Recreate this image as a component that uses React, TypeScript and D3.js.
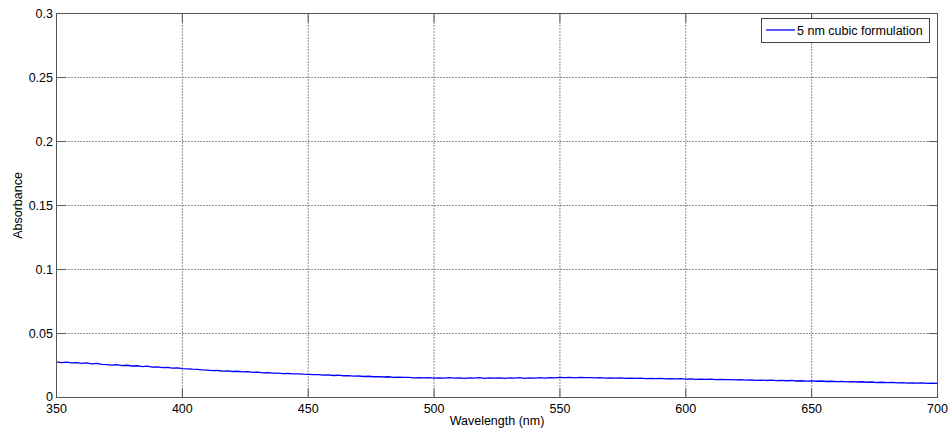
import React from "react";
import * as d3 from "d3";

const startNm = 350;
const stepNm = 2;
const absorbance: number[] = [
  0.0278, 0.0272, 0.0276, 0.0270, 0.0273, 0.0266, 0.0270, 0.0263, 0.0267, 0.0259,
  0.0257, 0.0253, 0.0256, 0.0249, 0.0252, 0.0246, 0.0248, 0.0242, 0.0245, 0.0238,
  0.0240, 0.0233, 0.0236, 0.0229, 0.0231, 0.0226, 0.0224, 0.0221, 0.0219, 0.0216,
  0.0214, 0.0210, 0.0211, 0.0206, 0.0208, 0.0203, 0.0205, 0.0200, 0.0202, 0.0197,
  0.0198, 0.0193, 0.0195, 0.0190, 0.0191, 0.0187, 0.0189, 0.0184, 0.0185, 0.0182,
  0.0181, 0.0178, 0.0179, 0.0175, 0.0177, 0.0172, 0.0174, 0.0170, 0.0171, 0.0167,
  0.0168, 0.0164, 0.0166, 0.0162, 0.0163, 0.0160, 0.0162, 0.0158, 0.0159, 0.0157,
  0.0157, 0.0154, 0.0156, 0.0153, 0.0155, 0.0152, 0.0154, 0.0151, 0.0155, 0.0152,
  0.0154, 0.0150, 0.0153, 0.0151, 0.0155, 0.0150, 0.0153, 0.0151, 0.0154, 0.0150,
  0.0153, 0.0151, 0.0155, 0.0150, 0.0154, 0.0152, 0.0156, 0.0151, 0.0155, 0.0153,
  0.0157, 0.0155, 0.0158, 0.0154, 0.0157, 0.0155, 0.0156, 0.0153, 0.0155, 0.0152,
  0.0154, 0.0151, 0.0153, 0.0150, 0.0152, 0.0149, 0.0151, 0.0148, 0.0150, 0.0147,
  0.0149, 0.0146, 0.0148, 0.0145, 0.0147, 0.0144, 0.0146, 0.0142, 0.0144, 0.0141,
  0.0143, 0.0140, 0.0142, 0.0139, 0.0140, 0.0137, 0.0139, 0.0135, 0.0137, 0.0134,
  0.0136, 0.0133, 0.0135, 0.0132, 0.0134, 0.0131, 0.0133, 0.0129, 0.0131, 0.0128,
  0.0130, 0.0127, 0.0129, 0.0125, 0.0127, 0.0124, 0.0126, 0.0122, 0.0124, 0.0121,
  0.0123, 0.0119, 0.0121, 0.0117, 0.0119, 0.0116, 0.0118, 0.0114, 0.0116, 0.0113,
  0.0115, 0.0112, 0.0114, 0.0110, 0.0112, 0.0110,
];
const xTicks = [350, 400, 450, 500, 550, 600, 650, 700];
const yTicks = [0, 0.05, 0.1, 0.15, 0.2, 0.25, 0.3];
const yTickLabels = ["0", "0.05", "0.1", "0.15", "0.2", "0.25", "0.3"];
const seriesName = "5 nm cubic formulation";
const xLabel = "Wavelength (nm)";
const yLabel = "Absorbance";

const W = 952;
const H = 434;
const L = 56.5, R = 937.5, T = 13.5, B = 397.5;
const FONT = "'Liberation Sans', Arial, sans-serif";

export default function App() {
  const x = d3.scaleLinear().domain([350, 700]).range([L, R]);
  const y = d3.scaleLinear().domain([0, 0.3]).range([B, T]);
  const pts: [number, number][] = absorbance.map((v, i) => [startNm + i * stepNm, v]);
  const line = d3
    .line<[number, number]>()
    .x((d) => x(d[0]))
    .y((d) => y(d[1]));
  const tickLen = 9;
  const axisColor = "#555";
  return (
    <svg
      width={W}
      height={H}
      style={{ position: "absolute", left: 0, top: 0, background: "#fff" }}
      fontFamily={FONT}
    >
      <rect x={0} y={0} width={W} height={H} fill="#fff" />
      {xTicks.slice(1, -1).map((t) => (
        <line key={"gx" + t} x1={x(t)} x2={x(t)} y1={T} y2={B} stroke="#222" strokeWidth={1} strokeDasharray="1,2" />
      ))}
      {yTicks.slice(1, -1).map((t) => (
        <line key={"gy" + t} x1={L} x2={R} y1={y(t)} y2={y(t)} stroke="#222" strokeWidth={1} strokeDasharray="1,2" />
      ))}
      {xTicks.map((t) => (
        <g key={"tx" + t}>
          <line x1={x(t)} x2={x(t)} y1={B} y2={B - tickLen} stroke={axisColor} />
          <line x1={x(t)} x2={x(t)} y1={T} y2={T + tickLen} stroke={axisColor} />
          <text x={x(t)} y={413} fontSize={12.5} textAnchor="middle" fill="#000">
            {t}
          </text>
        </g>
      ))}
      {yTicks.map((t, i) => (
        <g key={"ty" + t}>
          <line x1={L} x2={L + tickLen} y1={y(t)} y2={y(t)} stroke={axisColor} />
          <line x1={R} x2={R - tickLen} y1={y(t)} y2={y(t)} stroke={axisColor} />
          <text x={53} y={y(t) + (i === 0 ? 3 : 4.5)} fontSize={12.5} textAnchor="end" fill="#000">
            {yTickLabels[i]}
          </text>
        </g>
      ))}
      <path d={line(pts) || ""} fill="none" stroke="#0000ff" strokeWidth={1.3} strokeLinejoin="round" />
      <rect x={L} y={T} width={R - L} height={B - T} fill="none" stroke={axisColor} strokeWidth={1} />
      <text x={(L + R) / 2} y={425} fontSize={12.5} textAnchor="middle" fill="#000">
        {xLabel}
      </text>
      <text
        transform={`translate(21.5,${(T + B) / 2}) rotate(-90)`}
        fontSize={12.5}
        textAnchor="middle"
        fill="#000"
      >
        {yLabel}
      </text>
      <rect x={761.5} y={18.5} width={168} height={24} fill="#fff" stroke="#444" strokeWidth={1} />
      <line x1={766} x2={795} y1={30} y2={30} stroke="#0000ff" strokeWidth={1.3} />
      <text x={797} y={35} fontSize={12.5} fill="#000">
        {seriesName}
      </text>
    </svg>
  );
}
